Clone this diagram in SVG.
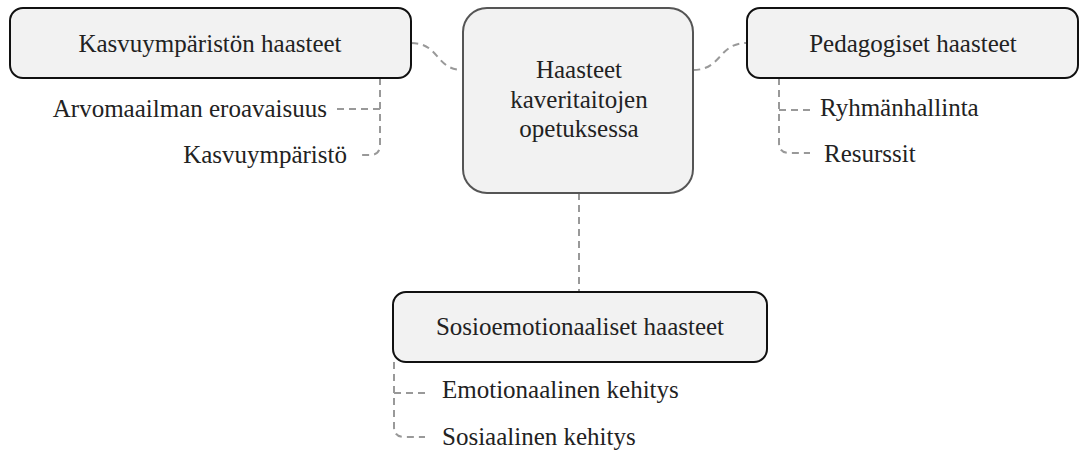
<svg xmlns="http://www.w3.org/2000/svg" width="1080" height="452" viewBox="0 0 1080 452">
<style>
.box{fill:#f2f2f2;stroke:#111;stroke-width:2}
.main{fill:#f2f2f2;stroke:#555;stroke-width:2}
.t{font-family:'Liberation Serif','Times New Roman',Tinos,'DejaVu Serif',serif;font-size:25px;fill:#222}
.c{fill:none;stroke:#999;stroke-width:2;stroke-dasharray:7 5}
</style>
<rect width="1080" height="452" fill="#fff"/>
<g id="connectors">
<path class="c" d="M411,43 C440,43 435,70 463,70"/>
<path class="c" d="M693,70 C722,70 718,43 747,43"/>
<path class="c" d="M579,193 V292"/>
<path class="c" d="M380,78 V145 Q380,155 370,155 H358"/>
<path class="c" d="M380,109 H334"/>
<path class="c" d="M779,78 V143 Q779,153 789,153 H810"/>
<path class="c" d="M779,110 H812"/>
<path class="c" d="M394,362 V427 Q394,437 404,437 H425"/>
<path class="c" d="M394,393 H427"/>
</g>
<g id="center">
<rect class="main" x="463" y="8" width="230" height="185" rx="24"/>
<text class="t" x="579" y="78" text-anchor="middle" font-family="Liberation Serif, serif">Haasteet</text>
<text class="t" x="579" y="108" text-anchor="middle">kaveritaitojen</text>
<text class="t" x="579" y="137" text-anchor="middle">opetuksessa</text>
</g>
<g id="kasvuymparisto">
<rect class="box" x="10" y="8" width="401" height="70" rx="13"/>
<text class="t" x="210" y="52" text-anchor="middle">Kasvuympäristön haasteet</text>
<text class="t" x="327" y="117" text-anchor="end">Arvomaailman eroavaisuus</text>
<text class="t" x="347" y="163" text-anchor="end">Kasvuympäristö</text>
</g>
<g id="pedagogiset">
<rect class="box" x="747" y="8" width="331" height="70" rx="13"/>
<text class="t" x="913" y="52" text-anchor="middle">Pedagogiset haasteet</text>
<text class="t" x="820" y="116" text-anchor="start">Ryhmänhallinta</text>
<text class="t" x="824" y="162" text-anchor="start">Resurssit</text>
</g>
<g id="sosioemotionaaliset">
<rect class="box" x="393" y="292" width="374" height="70" rx="13"/>
<text class="t" x="580" y="335" text-anchor="middle">Sosioemotionaaliset haasteet</text>
<text class="t" x="442" y="398" text-anchor="start">Emotionaalinen kehitys</text>
<text class="t" x="442" y="445" text-anchor="start">Sosiaalinen kehitys</text>
</g>
</svg>
